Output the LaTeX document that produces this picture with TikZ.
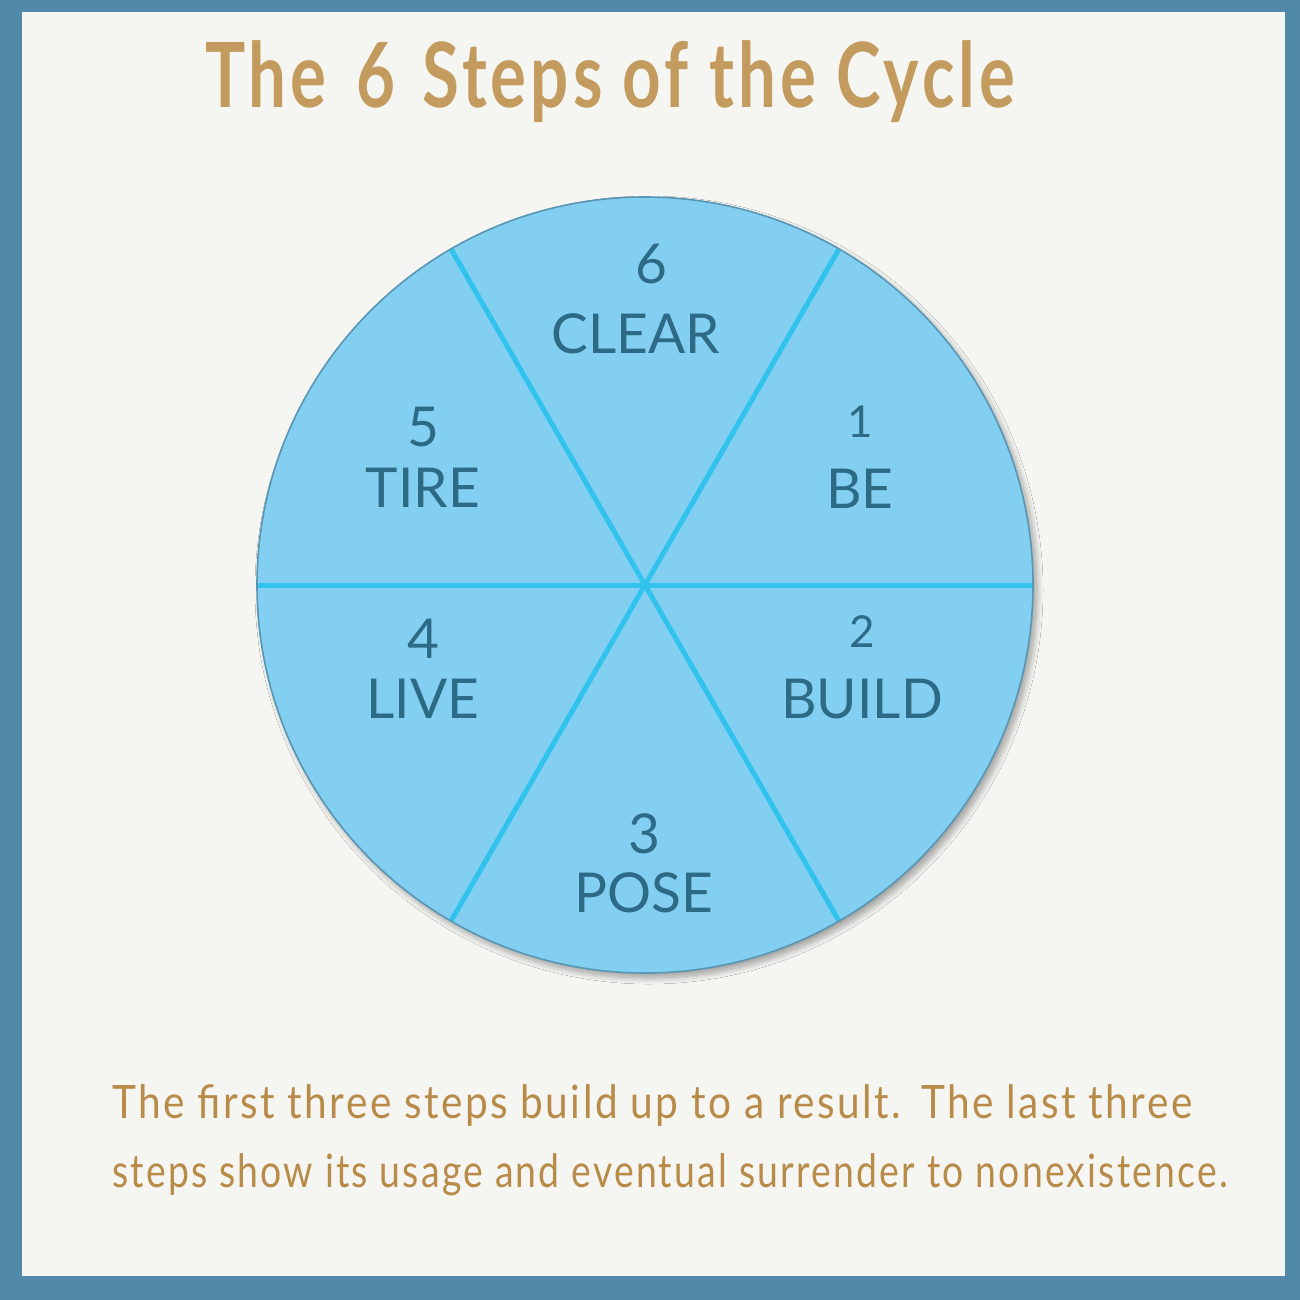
\documentclass[tikz,border=0pt]{standalone}
\usepackage{fontspec}
\setmainfont{Lato}
\newfontfamily\labfont{Lato}
\newfontfamily\handfont[LetterSpace=6]{Lato}
\usetikzlibrary{shadows.blur,calc}
\definecolor{framecol}{RGB}{80,138,168}
\definecolor{papercol}{RGB}{245,245,242}
\definecolor{wheelfill}{RGB}{131,207,241}
\definecolor{wheeledge}{RGB}{88,150,180}
\definecolor{spokecol}{RGB}{49,195,238}
\definecolor{labcol}{RGB}{44,106,134}
\definecolor{titlecol}{RGB}{196,155,94}
\definecolor{bodycol}{RGB}{185,139,72}
\newsavebox\fitbox
\newlength\fitlen
\newcommand\fitw[2]{\sbox\fitbox{#2}\setlength\fitlen{\wd\fitbox}\pgfmathsetmacro\fitscl{#1/\fitlen}\scalebox{\fitscl}[1]{\usebox\fitbox}}
\begin{document}
\begin{tikzpicture}[x=1pt,y=-1pt,
  numlab/.style={anchor=base,inner sep=0pt,text=labcol,font=\labfont\fontsize{55}{60}\selectfont},
  smallnum/.style={anchor=base,inner sep=0pt,text=labcol,font=\labfont\fontsize{44}{50}\selectfont},
  wordlab/.style={anchor=base,inner sep=0pt,text=labcol,font=\labfont\fontsize{55}{60}\selectfont},
  spoke/.style={draw=spokecol,line width=5pt},
  bodytext/.style={anchor=base west,inner sep=0pt,text=bodycol,font=\handfont\fontsize{46}{52}\selectfont}]
\useasboundingbox (0,0) rectangle (1300,1300);
\fill[framecol] (0,0) rectangle (1300,1300);
\fill[papercol] (22,12) rectangle (1285,1276);
% wheel
\coordinate (c) at (645,585);
\fill[wheelfill, blur shadow={shadow xshift=4pt, shadow yshift=-5pt, shadow opacity=35, shadow blur steps=12, shadow blur radius=6pt}] (c) circle[radius=388];
\foreach \a/\n in {0/p0,60/p60,120/p120,180/p180,240/p240,300/p300}
  \coordinate (\n) at ($(c)+(\a:388)$);
\draw[spoke] (p0) -- (p180);
\draw[spoke] (p60) -- (p240);
\draw[spoke] (p120) -- (p300);
\draw[wheeledge, line width=1.6pt] (c) circle[radius=388];
% labels
\node[numlab] (n6) at (651,283) {6};
\node[wordlab] (w6) at (636,353) {CLEAR};
\node[smallnum] (n1) at (860,437) {1};
\node[wordlab] (w1) at (860,508) {BE};
\node[numlab] (n5) at (423,446) {5};
\node[wordlab] (w5) at (423,507) {TIRE};
\node[numlab] (n4) at (423,658) {4};
\node[wordlab] (w4) at (423,718) {LIVE};
\node[smallnum] (n2) at (862,647) {2};
\node[wordlab] (w2) at (862,718) {BUILD};
\node[numlab] (n3) at (644,853) {3};
\node[wordlab] (w3) at (644,912) {POSE};
% title
\node[anchor=base west,inner sep=0pt,text=titlecol,font=\handfont\bfseries\fontsize{90}{100}\selectfont] (title) at (205,108)
  {\fitw{810}{The\hspace{0.45em}6\hspace{0.4em}Steps of the Cycle}};
% caption
\node[bodytext] (cap1) at (112,1118) {\fitw{1080}{The first three steps build up to a result.\hspace{0.5em}The last three}};
\node[bodytext] (cap2) at (112,1187) {\fitw{1116}{steps show its usage and eventual surrender to nonexistence.}};
\end{tikzpicture}
\end{document}
